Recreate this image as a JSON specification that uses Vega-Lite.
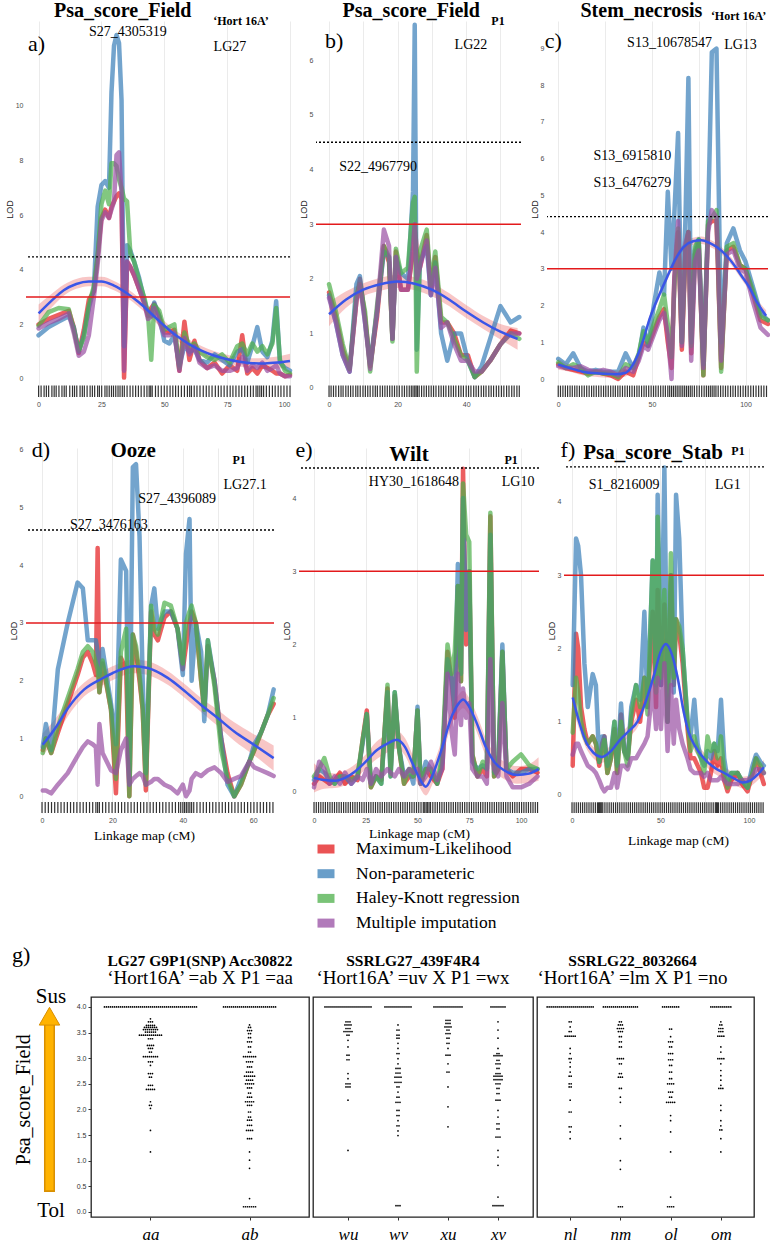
{
"$schema":"https://vega.github.io/schema/vega-lite/v6.json",
"background":"white",
"padding":{"left":3,"top":0,"right":0,"bottom":0},
"spacing":0,
"config":{"font":"Liberation Sans","view":{"stroke":null},
"axis":{"domain":false,"ticks":false,"labelOverlap":false,"gridColor":"#ebebeb","gridWidth":1,"labelColor":"#4d4d4d","labelFontSize":7,"titleFontSize":9,"titleFontWeight":"normal","titleColor":"#222"}},
"datasets":{
"a":[{"x":0,"ML":2.0,"NP":1.6,"HK":1.95,"MI":1.85},{"x":4,"ML":2.2,"NP":1.9,"HK":2.45,"MI":2.05},{"x":8,"ML":2.35,"NP":2.1,"HK":2.6,"MI":2.2},{"x":12,"ML":2.5,"NP":2.3,"HK":2.55,"MI":2.4},{"x":14,"ML":1.9,"NP":1.9,"HK":1.8,"MI":1.7},{"x":16,"ML":0.95,"NP":1.0,"HK":1.05,"MI":0.85},{"x":18,"ML":1.8,"NP":1.6,"HK":1.5,"MI":1.0},{"x":20,"ML":2.9,"NP":2.6,"HK":2.7,"MI":1.6},{"x":22,"ML":3.2,"NP":3.3,"HK":3.4,"MI":3.0},{"x":23.5,"ML":4.5,"NP":6.3,"HK":4.5,"MI":4.2},{"x":25,"ML":5.9,"NP":7.1,"HK":6.4,"MI":5.8},{"x":26.5,"ML":6.2,"NP":7.25,"HK":6.9,"MI":6.1},{"x":28,"ML":5.9,"NP":7.0,"HK":6.4,"MI":5.9},{"x":29,"ML":6.3,"NP":10.5,"HK":7.9,"MI":6.2},{"x":30,"ML":6.5,"NP":12.2,"HK":7.9,"MI":6.5},{"x":31,"ML":6.7,"NP":12.6,"HK":7.8,"MI":8.2},{"x":32,"ML":6.8,"NP":12.3,"HK":7.3,"MI":8.3},{"x":33,"ML":6.6,"NP":10.2,"HK":7.0,"MI":6.8},{"x":34,"ML":0.05,"NP":1.2,"HK":6.6,"MI":0.3},{"x":35.2,"ML":4.3,"NP":4.9,"HK":6.5,"MI":4.3},{"x":36.5,"ML":4.1,"NP":4.7,"HK":4.6,"MI":4.1},{"x":38,"ML":3.8,"NP":4.3,"HK":4.3,"MI":3.8},{"x":40,"ML":3.3,"NP":3.7,"HK":3.6,"MI":3.3},{"x":42,"ML":2.8,"NP":2.9,"HK":3.0,"MI":2.8},{"x":43.5,"ML":2.3,"NP":2.4,"HK":2.4,"MI":2.2},{"x":44.8,"ML":2.6,"NP":2.3,"HK":0.7,"MI":2.3},{"x":46,"ML":2.75,"NP":2.8,"HK":2.7,"MI":2.6},{"x":48,"ML":2.3,"NP":2.3,"HK":2.5,"MI":2.1},{"x":50,"ML":1.7,"NP":1.4,"HK":1.8,"MI":1.6},{"x":52,"ML":1.7,"NP":1.3,"HK":1.9,"MI":1.6},{"x":54,"ML":1.8,"NP":1.6,"HK":2.0,"MI":1.7},{"x":56,"ML":0.3,"NP":0.5,"HK":0.4,"MI":0.3},{"x":58,"ML":2.1,"NP":1.2,"HK":1.7,"MI":1.5},{"x":60,"ML":0.7,"NP":1.0,"HK":1.2,"MI":0.9},{"x":62,"ML":1.4,"NP":1.1,"HK":1.3,"MI":1.2},{"x":64,"ML":0.7,"NP":0.7,"HK":1.0,"MI":0.6},{"x":67,"ML":0.4,"NP":0.6,"HK":0.8,"MI":0.4},{"x":70,"ML":0.6,"NP":0.9,"HK":0.7,"MI":0.5},{"x":73,"ML":0.2,"NP":0.7,"HK":0.9,"MI":0.3},{"x":76,"ML":0.5,"NP":0.5,"HK":0.6,"MI":0.3},{"x":79,"ML":0.3,"NP":1.0,"HK":1.2,"MI":0.4},{"x":81,"ML":1.6,"NP":1.1,"HK":1.3,"MI":0.8},{"x":83,"ML":0.2,"NP":0.6,"HK":0.9,"MI":0.3},{"x":85,"ML":0.4,"NP":1.2,"HK":1.3,"MI":0.5},{"x":87,"ML":0.2,"NP":1.9,"HK":1.0,"MI":0.4},{"x":89,"ML":0.5,"NP":1.0,"HK":1.2,"MI":0.6},{"x":91,"ML":0.4,"NP":0.8,"HK":0.9,"MI":0.3},{"x":93,"ML":0.3,"NP":1.4,"HK":1.3,"MI":0.4},{"x":94.5,"ML":0.2,"NP":2.85,"HK":2.6,"MI":0.5},{"x":96,"ML":0.2,"NP":0.6,"HK":0.7,"MI":0.2},{"x":98,"ML":0.1,"NP":0.4,"HK":0.3,"MI":0.1},{"x":100,"ML":0.15,"NP":0.3,"HK":0.2,"MI":0.1}],
"b":[{"x":0,"ML":1.75,"NP":1.7,"HK":1.9,"MI":1.65},{"x":2,"ML":1.3,"NP":1.2,"HK":1.4,"MI":1.2},{"x":4,"ML":0.7,"NP":0.6,"HK":0.8,"MI":0.6},{"x":6,"ML":0.35,"NP":0.3,"HK":0.35,"MI":0.3},{"x":8,"ML":1.6,"NP":1.9,"HK":1.7,"MI":1.6},{"x":9,"ML":2.0,"NP":2.05,"HK":1.9,"MI":1.9},{"x":10.5,"ML":1.3,"NP":1.2,"HK":1.4,"MI":1.2},{"x":12,"ML":0.4,"NP":0.45,"HK":0.3,"MI":0.35},{"x":14,"ML":1.3,"NP":1.4,"HK":1.5,"MI":1.4},{"x":16,"ML":2.6,"NP":2.5,"HK":2.6,"MI":2.9},{"x":17.5,"ML":2.3,"NP":2.4,"HK":2.4,"MI":2.6},{"x":18.5,"ML":0.9,"NP":0.9,"HK":0.85,"MI":0.9},{"x":19.5,"ML":2.5,"NP":2.4,"HK":2.55,"MI":2.4},{"x":21,"ML":1.8,"NP":2.1,"HK":2.1,"MI":1.8},{"x":23,"ML":1.8,"NP":2.0,"HK":2.2,"MI":1.8},{"x":24.5,"ML":2.5,"NP":3.6,"HK":3.4,"MI":2.6},{"x":25,"ML":3.0,"NP":6.65,"HK":3.5,"MI":3.0},{"x":25.6,"ML":2.5,"NP":0.7,"HK":0.3,"MI":2.0},{"x":26.5,"ML":2.2,"NP":2.3,"HK":2.5,"MI":2.2},{"x":28.5,"ML":2.8,"NP":2.6,"HK":2.9,"MI":2.7},{"x":29.7,"ML":1.8,"NP":1.7,"HK":1.9,"MI":1.7},{"x":31,"ML":2.4,"NP":2.3,"HK":2.5,"MI":2.2},{"x":32.7,"ML":1.2,"NP":1.0,"HK":1.3,"MI":1.1},{"x":34.5,"ML":1.2,"NP":0.5,"HK":1.2,"MI":1.2},{"x":36.5,"ML":1.0,"NP":1.0,"HK":0.9,"MI":0.8},{"x":38.5,"ML":0.6,"NP":1.0,"HK":0.6,"MI":0.5},{"x":40.5,"ML":0.6,"NP":0.5,"HK":0.5,"MI":0.5},{"x":42.5,"ML":0.2,"NP":0.2,"HK":0.2,"MI":0.3},{"x":44.5,"ML":0.3,"NP":0.4,"HK":0.3,"MI":0.3},{"x":47,"ML":0.5,"NP":0.9,"HK":0.5,"MI":0.5},{"x":50,"ML":0.8,"NP":1.5,"HK":0.8,"MI":0.8},{"x":53,"ML":1.05,"NP":1.2,"HK":1.0,"MI":1.0},{"x":55.5,"ML":1.0,"NP":1.3,"HK":0.9,"MI":1.0}],
"c":[{"x":0,"ML":0.4,"NP":0.55,"HK":0.45,"MI":0.35},{"x":4,"ML":0.3,"NP":0.4,"HK":0.3,"MI":0.3},{"x":8,"ML":0.25,"NP":0.7,"HK":0.4,"MI":0.3},{"x":12,"ML":0.2,"NP":0.3,"HK":0.3,"MI":0.35},{"x":16,"ML":0.15,"NP":0.2,"HK":0.1,"MI":0.25},{"x":20,"ML":0.2,"NP":0.25,"HK":0.2,"MI":0.2},{"x":24,"ML":0.15,"NP":0.2,"HK":0.15,"MI":0.25},{"x":28,"ML":0.1,"NP":0.2,"HK":0.15,"MI":0.2},{"x":32,"ML":0.0,"NP":0.2,"HK":0.05,"MI":0.1},{"x":36,"ML":0.2,"NP":0.7,"HK":0.4,"MI":0.3},{"x":40,"ML":0.1,"NP":0.3,"HK":0.3,"MI":0.2},{"x":43,"ML":0.6,"NP":0.6,"HK":0.7,"MI":0.5},{"x":45.5,"ML":1.0,"NP":1.4,"HK":1.3,"MI":0.9},{"x":48,"ML":0.9,"NP":0.9,"HK":1.0,"MI":0.8},{"x":51,"ML":1.3,"NP":2.0,"HK":1.5,"MI":1.2},{"x":54,"ML":1.7,"NP":2.9,"HK":1.9,"MI":1.6},{"x":56.5,"ML":1.9,"NP":2.3,"HK":2.3,"MI":1.8},{"x":58.5,"ML":1.0,"NP":5.1,"HK":1.5,"MI":1.2},{"x":60.5,"ML":0.3,"NP":3.0,"HK":0.6,"MI":0.0},{"x":62,"ML":2.7,"NP":4.5,"HK":2.5,"MI":2.8},{"x":64,"ML":4.0,"NP":6.7,"HK":4.1,"MI":4.3},{"x":66,"ML":0.8,"NP":1.0,"HK":1.0,"MI":0.9},{"x":68,"ML":3.5,"NP":4.5,"HK":3.6,"MI":3.7},{"x":69.5,"ML":4.0,"NP":8.2,"HK":4.0,"MI":4.0},{"x":71,"ML":0.7,"NP":1.0,"HK":0.9,"MI":0.5},{"x":73,"ML":3.4,"NP":3.5,"HK":3.6,"MI":3.2},{"x":75,"ML":3.7,"NP":3.8,"HK":3.8,"MI":3.5},{"x":77.5,"ML":0.1,"NP":0.4,"HK":0.1,"MI":0.3},{"x":80,"ML":4.2,"NP":4.3,"HK":4.3,"MI":4.0},{"x":82,"ML":4.3,"NP":8.9,"HK":4.4,"MI":4.6},{"x":84.5,"ML":4.3,"NP":9.0,"HK":4.6,"MI":4.4},{"x":87,"ML":0.3,"NP":1.0,"HK":0.2,"MI":0.5},{"x":90,"ML":3.5,"NP":3.7,"HK":3.6,"MI":3.4},{"x":93.5,"ML":3.6,"NP":4.1,"HK":3.7,"MI":3.5},{"x":97,"ML":3.1,"NP":3.5,"HK":3.1,"MI":3.0},{"x":100,"ML":3.0,"NP":3.2,"HK":3.0,"MI":2.9},{"x":104,"ML":2.3,"NP":2.5,"HK":2.4,"MI":2.1},{"x":108,"ML":1.6,"NP":1.8,"HK":1.7,"MI":1.4},{"x":112,"ML":1.5,"NP":1.6,"HK":1.6,"MI":1.2}],
"d":[{"x":0.2,"ML":0.8,"NP":0.85,"HK":0.75,"MI":0.1},{"x":1.1,"ML":1.0,"NP":1.25,"HK":1.0,"MI":0.1},{"x":2.6,"ML":0.75,"NP":0.8,"HK":0.75,"MI":0.05},{"x":4.5,"ML":1.1,"NP":2.2,"HK":1.2,"MI":0.2},{"x":7.3,"ML":1.6,"NP":3.0,"HK":1.7,"MI":0.4},{"x":10.1,"ML":2.1,"NP":3.7,"HK":2.2,"MI":0.7},{"x":11.6,"ML":2.4,"NP":3.6,"HK":2.5,"MI":0.85},{"x":13,"ML":2.5,"NP":2.7,"HK":2.6,"MI":0.95},{"x":14.4,"ML":2.3,"NP":2.7,"HK":2.5,"MI":0.9},{"x":15.3,"ML":2.1,"NP":2.7,"HK":2.3,"MI":0.85},{"x":15.8,"ML":4.3,"NP":2.5,"HK":2.2,"MI":0.2},{"x":16.3,"ML":1.8,"NP":2.1,"HK":1.8,"MI":1.25},{"x":17.2,"ML":2.3,"NP":2.55,"HK":2.35,"MI":0.75},{"x":19.6,"ML":1.5,"NP":1.6,"HK":1.5,"MI":0.45},{"x":21,"ML":0.05,"NP":0.9,"HK":0.3,"MI":0.4},{"x":22.4,"ML":2.4,"NP":4.1,"HK":2.5,"MI":0.8},{"x":23.9,"ML":2.2,"NP":3.9,"HK":2.9,"MI":1.0},{"x":24.8,"ML":0.0,"NP":0.2,"HK":0.0,"MI":0.2},{"x":25.8,"ML":2.8,"NP":5.7,"HK":2.8,"MI":0.3},{"x":26.7,"ML":2.5,"NP":5.75,"HK":2.6,"MI":0.35},{"x":27.7,"ML":2.0,"NP":4.5,"HK":2.1,"MI":0.4},{"x":28.6,"ML":1.5,"NP":2.0,"HK":1.5,"MI":0.35},{"x":29.5,"ML":0.1,"NP":0.4,"HK":0.2,"MI":0.2},{"x":31,"ML":3.2,"NP":3.3,"HK":3.3,"MI":0.25},{"x":31.9,"ML":2.8,"NP":3.6,"HK":2.9,"MI":0.3},{"x":32.9,"ML":2.7,"NP":2.9,"HK":2.8,"MI":0.3},{"x":34.8,"ML":3.1,"NP":3.2,"HK":3.35,"MI":0.2},{"x":36.6,"ML":3.2,"NP":3.2,"HK":3.3,"MI":0.15},{"x":38.5,"ML":2.9,"NP":2.9,"HK":2.9,"MI":0.05},{"x":40,"ML":2.2,"NP":2.1,"HK":2.3,"MI":0.2},{"x":40.9,"ML":2.6,"NP":4.2,"HK":3.0,"MI":0.0},{"x":41.9,"ML":3.0,"NP":4.8,"HK":3.2,"MI":0.1},{"x":42.5,"ML":3.2,"NP":2.0,"HK":3.3,"MI":0.3},{"x":43.7,"ML":3.0,"NP":3.0,"HK":3.0,"MI":0.4},{"x":45.2,"ML":2.0,"NP":2.5,"HK":2.0,"MI":0.35},{"x":46.1,"ML":1.5,"NP":1.3,"HK":1.5,"MI":0.4},{"x":47.1,"ML":2.6,"NP":2.7,"HK":2.7,"MI":0.45},{"x":49,"ML":2.0,"NP":2.0,"HK":1.9,"MI":0.5},{"x":50.9,"ML":1.0,"NP":1.0,"HK":0.8,"MI":0.4},{"x":52.7,"ML":0.4,"NP":0.2,"HK":0.3,"MI":0.25},{"x":54.6,"ML":0.0,"NP":0.0,"HK":0.0,"MI":0.3},{"x":56.5,"ML":0.2,"NP":0.3,"HK":0.2,"MI":0.35},{"x":58.9,"ML":0.6,"NP":0.6,"HK":0.6,"MI":0.6},{"x":60.3,"ML":0.8,"NP":0.9,"HK":0.8,"MI":0.5},{"x":62.2,"ML":1.1,"NP":1.1,"HK":1.1,"MI":0.45},{"x":64.1,"ML":1.4,"NP":1.4,"HK":1.4,"MI":0.4},{"x":65.8,"ML":1.6,"NP":1.85,"HK":1.7,"MI":0.35}],
"e":[{"x":0,"ML":0.1,"NP":0.15,"HK":0.2,"MI":0.05},{"x":2.5,"ML":0.2,"NP":0.3,"HK":0.3,"MI":0.4},{"x":5,"ML":0.15,"NP":0.25,"HK":0.45,"MI":0.3},{"x":7.5,"ML":0.1,"NP":0.15,"HK":0.2,"MI":0.1},{"x":10,"ML":0.15,"NP":0.1,"HK":0.1,"MI":0.2},{"x":12.5,"ML":0.25,"NP":0.2,"HK":0.2,"MI":0.1},{"x":15,"ML":0.1,"NP":0.2,"HK":0.2,"MI":0.25},{"x":18,"ML":0.2,"NP":0.1,"HK":0.15,"MI":0.1},{"x":21,"ML":0.15,"NP":0.2,"HK":0.2,"MI":0.2},{"x":23.5,"ML":0.7,"NP":0.65,"HK":0.7,"MI":0.15},{"x":25.5,"ML":1.1,"NP":1.05,"HK":1.05,"MI":0.3},{"x":27.5,"ML":0.05,"NP":0.1,"HK":0.05,"MI":0.1},{"x":30,"ML":0.2,"NP":0.2,"HK":0.2,"MI":0.3},{"x":32.5,"ML":0.15,"NP":0.1,"HK":0.1,"MI":0.2},{"x":35.5,"ML":1.4,"NP":1.35,"HK":1.45,"MI":0.3},{"x":37,"ML":0.3,"NP":0.2,"HK":0.2,"MI":0.25},{"x":39,"ML":1.3,"NP":1.35,"HK":1.35,"MI":0.2},{"x":41,"ML":0.6,"NP":0.6,"HK":0.6,"MI":0.3},{"x":43.5,"ML":0.1,"NP":0.2,"HK":0.1,"MI":0.2},{"x":46,"ML":0.2,"NP":0.3,"HK":0.3,"MI":0.3},{"x":48,"ML":0.2,"NP":0.1,"HK":0.2,"MI":0.25},{"x":50,"ML":1.1,"NP":1.15,"HK":1.1,"MI":0.3},{"x":51.5,"ML":0.1,"NP":0.1,"HK":0.1,"MI":0.1},{"x":54,"ML":0.3,"NP":0.4,"HK":0.3,"MI":0.2},{"x":56.5,"ML":0.2,"NP":0.3,"HK":0.3,"MI":0.4},{"x":59.5,"ML":0.1,"NP":0.1,"HK":0.1,"MI":0.15},{"x":62,"ML":0.3,"NP":0.4,"HK":0.5,"MI":0.3},{"x":64.5,"ML":1.9,"NP":1.8,"HK":2.0,"MI":1.6},{"x":66.5,"ML":1.5,"NP":1.5,"HK":1.6,"MI":0.8},{"x":68,"ML":1.0,"NP":1.1,"HK":1.9,"MI":0.5},{"x":69.5,"ML":2.8,"NP":3.1,"HK":2.8,"MI":1.6},{"x":71,"ML":1.5,"NP":1.6,"HK":1.5,"MI":0.9},{"x":72,"ML":4.4,"NP":4.0,"HK":4.2,"MI":1.4},{"x":73.5,"ML":2.0,"NP":2.2,"HK":3.5,"MI":1.0},{"x":75,"ML":3.0,"NP":3.0,"HK":3.4,"MI":1.2},{"x":76.5,"ML":0.5,"NP":0.4,"HK":0.5,"MI":0.3},{"x":79,"ML":0.2,"NP":0.3,"HK":0.2,"MI":0.2},{"x":81.5,"ML":0.3,"NP":0.35,"HK":0.4,"MI":0.2},{"x":83.5,"ML":0.2,"NP":0.3,"HK":0.3,"MI":0.1},{"x":85.2,"ML":3.75,"NP":3.5,"HK":3.8,"MI":1.8},{"x":87,"ML":0.2,"NP":0.25,"HK":0.2,"MI":0.3},{"x":89,"ML":0.3,"NP":0.4,"HK":0.3,"MI":0.2},{"x":91,"ML":1.9,"NP":2.0,"HK":1.9,"MI":1.2},{"x":93,"ML":0.3,"NP":0.3,"HK":0.3,"MI":0.2},{"x":96,"ML":0.2,"NP":0.25,"HK":0.4,"MI":0.05},{"x":100,"ML":0.3,"NP":0.25,"HK":0.5,"MI":0.05},{"x":104,"ML":0.3,"NP":0.3,"HK":0.35,"MI":0.1},{"x":108,"ML":0.25,"NP":0.3,"HK":0.3,"MI":0.2}],
"f":[{"x":0.4,"ML":0.4,"NP":1.5,"HK":0.85,"MI":0.55},{"x":2.3,"ML":2.2,"NP":3.5,"HK":1.6,"MI":0.7},{"x":3.5,"ML":2.0,"NP":3.4,"HK":1.4,"MI":0.7},{"x":5.1,"ML":1.2,"NP":3.0,"HK":1.0,"MI":0.6},{"x":7,"ML":0.9,"NP":1.8,"HK":0.8,"MI":0.5},{"x":8.9,"ML":0.7,"NP":1.2,"HK":0.7,"MI":0.4},{"x":11.7,"ML":0.8,"NP":1.65,"HK":0.8,"MI":0.35},{"x":13.5,"ML":0.7,"NP":1.5,"HK":0.7,"MI":0.3},{"x":15.4,"ML":0.4,"NP":0.45,"HK":0.45,"MI":0.2},{"x":17,"ML":0.7,"NP":0.8,"HK":0.6,"MI":0.1},{"x":18.3,"ML":0.8,"NP":0.8,"HK":0.75,"MI":0.05},{"x":20,"ML":0.3,"NP":0.4,"HK":0.3,"MI":0.1},{"x":22,"ML":0.5,"NP":0.6,"HK":0.5,"MI":0.1},{"x":24,"ML":0.9,"NP":1.0,"HK":1.0,"MI":0.3},{"x":25.5,"ML":0.3,"NP":0.4,"HK":0.3,"MI":0.1},{"x":27.7,"ML":1.1,"NP":1.25,"HK":1.0,"MI":0.4},{"x":29.5,"ML":0.6,"NP":0.6,"HK":0.6,"MI":0.4},{"x":31.4,"ML":0.5,"NP":0.5,"HK":0.4,"MI":0.35},{"x":33.5,"ML":1.0,"NP":1.2,"HK":1.1,"MI":0.5},{"x":36.2,"ML":1.3,"NP":1.5,"HK":1.5,"MI":0.5},{"x":38.5,"ML":1.0,"NP":1.3,"HK":1.2,"MI":0.6},{"x":40.9,"ML":1.6,"NP":2.5,"HK":1.6,"MI":0.7},{"x":42.7,"ML":1.2,"NP":1.2,"HK":1.1,"MI":0.8},{"x":45.6,"ML":2.5,"NP":3.2,"HK":3.2,"MI":1.5},{"x":47.5,"ML":1.2,"NP":1.5,"HK":1.4,"MI":0.9},{"x":48.4,"ML":2.8,"NP":4.1,"HK":3.8,"MI":1.6},{"x":50.3,"ML":1.5,"NP":1.5,"HK":1.6,"MI":0.9},{"x":52.2,"ML":2.6,"NP":4.47,"HK":2.8,"MI":1.8},{"x":54,"ML":1.0,"NP":1.0,"HK":1.0,"MI":0.6},{"x":55.9,"ML":3.0,"NP":3.0,"HK":3.3,"MI":1.5},{"x":57.5,"ML":1.5,"NP":1.4,"HK":1.6,"MI":0.7},{"x":58.8,"ML":2.4,"NP":4.1,"HK":2.4,"MI":1.3},{"x":60.6,"ML":2.2,"NP":3.5,"HK":2.3,"MI":0.9},{"x":62.5,"ML":1.8,"NP":2.0,"HK":2.0,"MI":0.7},{"x":65.3,"ML":0.9,"NP":1.0,"HK":1.0,"MI":0.5},{"x":67,"ML":0.5,"NP":0.8,"HK":0.6,"MI":0.35},{"x":69.1,"ML":0.5,"NP":1.3,"HK":0.8,"MI":0.3},{"x":71,"ML":0.4,"NP":0.7,"HK":0.6,"MI":0.3},{"x":72.9,"ML":0.3,"NP":0.5,"HK":0.5,"MI":0.3},{"x":74.7,"ML":0.1,"NP":0.4,"HK":0.3,"MI":0.25},{"x":76.6,"ML":0.1,"NP":0.6,"HK":0.8,"MI":0.3},{"x":78.5,"ML":0.3,"NP":0.5,"HK":0.6,"MI":0.2},{"x":80.4,"ML":0.6,"NP":0.7,"HK":0.7,"MI":0.2},{"x":82.3,"ML":0.4,"NP":0.6,"HK":0.5,"MI":0.2},{"x":84.2,"ML":0.5,"NP":1.3,"HK":0.8,"MI":0.25},{"x":86,"ML":0.2,"NP":0.5,"HK":0.3,"MI":0.2},{"x":87.9,"ML":0.05,"NP":0.2,"HK":0.1,"MI":0.15},{"x":90,"ML":0.2,"NP":0.3,"HK":0.3,"MI":0.15},{"x":93.6,"ML":0.3,"NP":0.3,"HK":0.3,"MI":0.15},{"x":96,"ML":0.15,"NP":0.2,"HK":0.2,"MI":0.2},{"x":99.2,"ML":0.05,"NP":0.1,"HK":0.1,"MI":0.2},{"x":102,"ML":0.3,"NP":0.4,"HK":0.3,"MI":0.25},{"x":104,"ML":0.5,"NP":0.55,"HK":0.5,"MI":0.35},{"x":106.5,"ML":0.3,"NP":0.45,"HK":0.4,"MI":0.35},{"x":108.4,"ML":0.15,"NP":0.4,"HK":0.3,"MI":0.3}],
"sa":[{"x":0,"y":2.4,"lo":2.07,"hi":2.73},{"x":5,"y":2.85,"lo":2.6,"hi":3.1},{"x":10,"y":3.25,"lo":3.05,"hi":3.45},{"x":15,"y":3.48,"lo":3.3,"hi":3.66},{"x":20,"y":3.57,"lo":3.4,"hi":3.74},{"x":25,"y":3.57,"lo":3.4,"hi":3.74},{"x":30,"y":3.42,"lo":3.25,"hi":3.59},{"x":35,"y":3.15,"lo":2.98,"hi":3.32},{"x":40,"y":2.8,"lo":2.63,"hi":2.97},{"x":45,"y":2.38,"lo":2.21,"hi":2.55},{"x":50,"y":1.95,"lo":1.78,"hi":2.12},{"x":55,"y":1.57,"lo":1.4,"hi":1.74},{"x":60,"y":1.27,"lo":1.1,"hi":1.44},{"x":65,"y":1.03,"lo":0.86,"hi":1.2},{"x":70,"y":0.85,"lo":0.68,"hi":1.02},{"x":75,"y":0.72,"lo":0.55,"hi":0.89},{"x":80,"y":0.63,"lo":0.46,"hi":0.8},{"x":85,"y":0.58,"lo":0.4,"hi":0.76},{"x":90,"y":0.57,"lo":0.37,"hi":0.77},{"x":95,"y":0.6,"lo":0.38,"hi":0.82},{"x":100,"y":0.66,"lo":0.4,"hi":0.92}],
"sb":[{"x":0,"y":1.35,"lo":1.13,"hi":1.57},{"x":5,"y":1.62,"lo":1.47,"hi":1.77},{"x":10,"y":1.8,"lo":1.68,"hi":1.92},{"x":15,"y":1.9,"lo":1.78,"hi":2.02},{"x":20,"y":1.95,"lo":1.83,"hi":2.07},{"x":25,"y":1.91,"lo":1.79,"hi":2.03},{"x":30,"y":1.8,"lo":1.68,"hi":1.92},{"x":35,"y":1.62,"lo":1.5,"hi":1.74},{"x":40,"y":1.4,"lo":1.28,"hi":1.52},{"x":45,"y":1.2,"lo":1.08,"hi":1.32},{"x":50,"y":1.03,"lo":0.89,"hi":1.17},{"x":55,"y":0.9,"lo":0.7,"hi":1.1}],
"sc":[{"x":0,"y":0.4,"lo":0.25,"hi":0.55},{"x":6,"y":0.3,"lo":0.2,"hi":0.4},{"x":13,"y":0.2,"lo":0.1,"hi":0.3},{"x":22,"y":0.15,"lo":0.05,"hi":0.25},{"x":31,"y":0.13,"lo":0.03,"hi":0.23},{"x":36,"y":0.17,"lo":0.07,"hi":0.27},{"x":40,"y":0.4,"lo":0.3,"hi":0.5},{"x":45,"y":1.0,"lo":0.9,"hi":1.1},{"x":49,"y":1.67,"lo":1.57,"hi":1.77},{"x":54,"y":2.3,"lo":2.2,"hi":2.4},{"x":58,"y":2.76,"lo":2.66,"hi":2.86},{"x":63,"y":3.3,"lo":3.2,"hi":3.4},{"x":67,"y":3.6,"lo":3.5,"hi":3.7},{"x":72,"y":3.75,"lo":3.65,"hi":3.85},{"x":76.5,"y":3.78,"lo":3.68,"hi":3.88},{"x":81,"y":3.7,"lo":3.6,"hi":3.8},{"x":85,"y":3.58,"lo":3.48,"hi":3.68},{"x":90,"y":3.35,"lo":3.25,"hi":3.45},{"x":94,"y":3.1,"lo":3.0,"hi":3.2},{"x":98,"y":2.8,"lo":2.7,"hi":2.9},{"x":102,"y":2.5,"lo":2.4,"hi":2.6},{"x":106,"y":2.1,"lo":2.0,"hi":2.2},{"x":111,"y":1.72,"lo":1.57,"hi":1.87}],
"sd":[{"x":0.2,"y":0.89,"lo":0.69,"hi":1.09},{"x":4,"y":1.2,"lo":1.04,"hi":1.36},{"x":7.3,"y":1.52,"lo":1.38,"hi":1.66},{"x":12,"y":1.85,"lo":1.73,"hi":1.97},{"x":16.8,"y":2.03,"lo":1.91,"hi":2.15},{"x":20,"y":2.13,"lo":2.01,"hi":2.25},{"x":26.2,"y":2.25,"lo":2.13,"hi":2.37},{"x":30,"y":2.22,"lo":2.1,"hi":2.34},{"x":35.7,"y":2.05,"lo":1.93,"hi":2.17},{"x":40,"y":1.85,"lo":1.73,"hi":1.97},{"x":45.2,"y":1.58,"lo":1.46,"hi":1.7},{"x":50,"y":1.35,"lo":1.21,"hi":1.49},{"x":54.6,"y":1.12,"lo":0.96,"hi":1.28},{"x":60,"y":0.9,"lo":0.72,"hi":1.08},{"x":65.8,"y":0.66,"lo":0.44,"hi":0.88}],
"se":[{"x":0,"y":0.18,"lo":-0.02,"hi":0.38},{"x":5,"y":0.15,"lo":0.03,"hi":0.27},{"x":10,"y":0.14,"lo":0.04,"hi":0.24},{"x":15,"y":0.18,"lo":0.08,"hi":0.28},{"x":20,"y":0.27,"lo":0.17,"hi":0.37},{"x":25,"y":0.4,"lo":0.3,"hi":0.5},{"x":30,"y":0.55,"lo":0.43,"hi":0.67},{"x":35,"y":0.64,"lo":0.52,"hi":0.76},{"x":40,"y":0.7,"lo":0.58,"hi":0.82},{"x":44,"y":0.6,"lo":0.48,"hi":0.72},{"x":48,"y":0.35,"lo":0.23,"hi":0.47},{"x":51,"y":0.17,"lo":0.05,"hi":0.29},{"x":54,"y":0.06,"lo":-0.06,"hi":0.18},{"x":57,"y":0.2,"lo":0.08,"hi":0.32},{"x":62,"y":0.6,"lo":0.48,"hi":0.72},{"x":66,"y":0.98,"lo":0.86,"hi":1.1},{"x":70,"y":1.2,"lo":1.08,"hi":1.32},{"x":72,"y":1.25,"lo":1.13,"hi":1.37},{"x":75,"y":1.15,"lo":1.03,"hi":1.27},{"x":79,"y":0.9,"lo":0.78,"hi":1.02},{"x":83,"y":0.6,"lo":0.48,"hi":0.72},{"x":87,"y":0.4,"lo":0.28,"hi":0.52},{"x":92,"y":0.28,"lo":0.16,"hi":0.4},{"x":98,"y":0.22,"lo":0.1,"hi":0.34},{"x":104,"y":0.24,"lo":0.11,"hi":0.37},{"x":108.5,"y":0.3,"lo":0.14,"hi":0.46}],
"sf":[{"x":0.4,"y":1.33,"lo":1.21,"hi":1.45},{"x":4,"y":1.0,"lo":0.9,"hi":1.1},{"x":8,"y":0.72,"lo":0.64,"hi":0.8},{"x":12,"y":0.58,"lo":0.5,"hi":0.66},{"x":17,"y":0.52,"lo":0.44,"hi":0.6},{"x":22,"y":0.6,"lo":0.52,"hi":0.68},{"x":27,"y":0.75,"lo":0.67,"hi":0.83},{"x":32,"y":0.87,"lo":0.79,"hi":0.95},{"x":37,"y":1.0,"lo":0.92,"hi":1.08},{"x":42,"y":1.3,"lo":1.22,"hi":1.38},{"x":46.5,"y":1.65,"lo":1.57,"hi":1.73},{"x":50,"y":1.95,"lo":1.87,"hi":2.03},{"x":53,"y":2.06,"lo":1.98,"hi":2.14},{"x":56,"y":1.95,"lo":1.87,"hi":2.03},{"x":59.7,"y":1.6,"lo":1.52,"hi":1.68},{"x":63,"y":1.15,"lo":1.07,"hi":1.23},{"x":66,"y":0.85,"lo":0.77,"hi":0.93},{"x":70,"y":0.65,"lo":0.57,"hi":0.73},{"x":76.6,"y":0.45,"lo":0.37,"hi":0.53},{"x":82,"y":0.35,"lo":0.27,"hi":0.43},{"x":86,"y":0.3,"lo":0.22,"hi":0.38},{"x":92,"y":0.22,"lo":0.14,"hi":0.3},{"x":96.4,"y":0.17,"lo":0.09,"hi":0.25},{"x":101,"y":0.2,"lo":0.12,"hi":0.28},{"x":105,"y":0.28,"lo":0.2,"hi":0.36},{"x":108.4,"y":0.38,"lo":0.28,"hi":0.48}],
"ra":[{"x":0},{"x":1},{"x":2.2},{"x":3.1},{"x":4},{"x":5.3},{"x":6.2},{"x":7},{"x":8.1},{"x":9.3},{"x":10.2},{"x":11},{"x":12.4},{"x":13.5},{"x":14.3},{"x":15.2},{"x":16.5},{"x":17.4},{"x":18.2},{"x":19.3},{"x":20.5},{"x":21.4},{"x":22.3},{"x":23.5},{"x":24.2},{"x":25.1},{"x":26.4},{"x":27.2},{"x":28.1},{"x":29},{"x":29.8},{"x":30.7},{"x":31.6},{"x":32.4},{"x":33.3},{"x":34.1},{"x":35.2},{"x":36.4},{"x":37.5},{"x":38.6},{"x":39.7},{"x":40.8},{"x":42},{"x":43.1},{"x":44},{"x":44.6},{"x":45.2},{"x":46.5},{"x":47.6},{"x":48.8},{"x":50},{"x":51.1},{"x":52.3},{"x":53.4},{"x":54.5},{"x":55.6},{"x":56.8},{"x":58},{"x":59.2},{"x":60.1},{"x":60.8},{"x":61.9},{"x":63},{"x":64.2},{"x":65.5},{"x":66.7},{"x":67.8},{"x":69},{"x":70.3},{"x":71.5},{"x":72.6},{"x":73.8},{"x":75},{"x":76.2},{"x":77.3},{"x":78.5},{"x":79.7},{"x":80.8},{"x":82},{"x":83.1},{"x":84.3},{"x":85.4},{"x":86.5},{"x":87.2},{"x":88},{"x":88.7},{"x":89.5},{"x":90.6},{"x":91.8},{"x":93},{"x":94.1},{"x":95.3},{"x":96.4},{"x":97.6},{"x":98.8},{"x":100}],
"rb":[{"x":0},{"x":0.6},{"x":1.3},{"x":2},{"x":2.8},{"x":3.5},{"x":4.1},{"x":4.9},{"x":5.6},{"x":6.3},{"x":7},{"x":7.8},{"x":8.4},{"x":9.1},{"x":9.9},{"x":10.6},{"x":11.3},{"x":12},{"x":12.8},{"x":13.5},{"x":14.1},{"x":14.9},{"x":15.6},{"x":16.3},{"x":17},{"x":17.7},{"x":18.4},{"x":19.1},{"x":19.8},{"x":20.5},{"x":21.3},{"x":22},{"x":22.7},{"x":23.4},{"x":24},{"x":24.5},{"x":25},{"x":25.4},{"x":25.8},{"x":26.3},{"x":27},{"x":27.7},{"x":28.4},{"x":29.1},{"x":29.8},{"x":30.5},{"x":31.2},{"x":32},{"x":32.7},{"x":33.4},{"x":34.1},{"x":34.9},{"x":35.6},{"x":36.3},{"x":37},{"x":37.8},{"x":38.5},{"x":39.2},{"x":40},{"x":40.7},{"x":41.4},{"x":42.2},{"x":42.9},{"x":43.6},{"x":44.4},{"x":45.1},{"x":45.8},{"x":46.6},{"x":47.3},{"x":48},{"x":48.8},{"x":49.5},{"x":50.3},{"x":51},{"x":51.8},{"x":52.5},{"x":53.3},{"x":54},{"x":54.8},{"x":55.5}],
"rc":[{"x":0},{"x":1.2},{"x":2.5},{"x":3.8},{"x":5},{"x":6.3},{"x":7.5},{"x":8.8},{"x":10},{"x":11.3},{"x":12.6},{"x":13.9},{"x":15.2},{"x":16.5},{"x":17.8},{"x":19},{"x":20.3},{"x":21.6},{"x":22.9},{"x":24.2},{"x":25.4},{"x":26.7},{"x":28},{"x":29.3},{"x":30.5},{"x":31.8},{"x":33},{"x":34.3},{"x":35.6},{"x":36.9},{"x":38.1},{"x":39.4},{"x":40.7},{"x":42},{"x":43.2},{"x":44.5},{"x":45.8},{"x":47},{"x":48.3},{"x":49.6},{"x":50.9},{"x":52.1},{"x":53.4},{"x":54.7},{"x":56},{"x":57.2},{"x":58.5},{"x":59.5},{"x":60.5},{"x":61.5},{"x":62.5},{"x":63.5},{"x":64.5},{"x":65.5},{"x":66.5},{"x":67.5},{"x":68.5},{"x":69.5},{"x":70.5},{"x":71.5},{"x":72.7},{"x":74},{"x":75.3},{"x":76.6},{"x":77.9},{"x":79.1},{"x":80.2},{"x":81.2},{"x":82.2},{"x":83.2},{"x":84.2},{"x":85.4},{"x":86.7},{"x":88},{"x":89.3},{"x":90.6},{"x":92},{"x":93.3},{"x":94.6},{"x":96},{"x":97.3},{"x":98.7},{"x":100},{"x":101.4},{"x":102.8},{"x":104.2},{"x":105.6},{"x":107},{"x":108.4},{"x":109.8},{"x":111.2}],
"rd":[{"x":0},{"x":0.9},{"x":1.8},{"x":2.7},{"x":3.6},{"x":4.5},{"x":5.4},{"x":6.3},{"x":7.2},{"x":8.1},{"x":9},{"x":9.9},{"x":10.8},{"x":11.7},{"x":12.6},{"x":13.5},{"x":14.4},{"x":15.3},{"x":15.8},{"x":16.3},{"x":17.2},{"x":18.1},{"x":19},{"x":19.9},{"x":20.8},{"x":21.7},{"x":22.6},{"x":23.5},{"x":24.4},{"x":25.3},{"x":26.2},{"x":27.1},{"x":28},{"x":28.9},{"x":29.8},{"x":30.7},{"x":31.6},{"x":32.5},{"x":33.4},{"x":34.3},{"x":35.2},{"x":36.1},{"x":37},{"x":37.9},{"x":38.8},{"x":39.4},{"x":40},{"x":40.5},{"x":41},{"x":41.5},{"x":42},{"x":42.5},{"x":43.1},{"x":44},{"x":44.9},{"x":45.8},{"x":46.7},{"x":47.6},{"x":48.5},{"x":49.4},{"x":50.3},{"x":51.2},{"x":52.1},{"x":53},{"x":53.9},{"x":54.8},{"x":55.7},{"x":56.6},{"x":57.5},{"x":58.4},{"x":59.3},{"x":60.2},{"x":61.1},{"x":62},{"x":62.9},{"x":63.8},{"x":64.7},{"x":65.6}],
"re":[{"x":0},{"x":1.1},{"x":2.2},{"x":3.3},{"x":4.4},{"x":5.5},{"x":6.6},{"x":7.7},{"x":8.8},{"x":9.9},{"x":11},{"x":12.1},{"x":13.2},{"x":14.3},{"x":15.4},{"x":16.5},{"x":17.6},{"x":18.7},{"x":19.8},{"x":20.9},{"x":22},{"x":23.1},{"x":24.2},{"x":25.3},{"x":26.4},{"x":27.5},{"x":28.6},{"x":29.7},{"x":30.8},{"x":31.9},{"x":33},{"x":34.1},{"x":35.2},{"x":36.3},{"x":37.4},{"x":38.5},{"x":39.6},{"x":40.7},{"x":41.8},{"x":42.9},{"x":44},{"x":45.1},{"x":46.2},{"x":47.3},{"x":48.4},{"x":49.5},{"x":50.6},{"x":51.7},{"x":52.8},{"x":53.5},{"x":54.2},{"x":54.9},{"x":55.6},{"x":56.3},{"x":57.4},{"x":58.5},{"x":59.6},{"x":60.7},{"x":61.8},{"x":62.9},{"x":64},{"x":65.1},{"x":66.2},{"x":67.3},{"x":68.4},{"x":69.5},{"x":70.6},{"x":71.7},{"x":72.8},{"x":73.9},{"x":75},{"x":76.1},{"x":77.2},{"x":78.3},{"x":79.4},{"x":80.5},{"x":81.6},{"x":82.7},{"x":83.8},{"x":84.9},{"x":86},{"x":87.1},{"x":88.2},{"x":89.3},{"x":90.4},{"x":91.5},{"x":92.6},{"x":93.7},{"x":94.8},{"x":95.9},{"x":97},{"x":98.1},{"x":99.2},{"x":100.3},{"x":101.4},{"x":102.5},{"x":103.6},{"x":104.7},{"x":105.8},{"x":106.9},{"x":108}],
"rf":[{"x":0},{"x":1.2},{"x":2.4},{"x":3.6},{"x":4.8},{"x":6},{"x":7.2},{"x":8.4},{"x":9.6},{"x":10.8},{"x":12},{"x":13.2},{"x":14.4},{"x":15},{"x":15.6},{"x":16.2},{"x":16.8},{"x":17.4},{"x":18.6},{"x":19.8},{"x":21},{"x":22.2},{"x":23.4},{"x":24.6},{"x":25.8},{"x":27},{"x":28.2},{"x":29.4},{"x":30.6},{"x":31.8},{"x":33},{"x":34.2},{"x":35.4},{"x":36.6},{"x":37.8},{"x":39},{"x":40.2},{"x":41.4},{"x":42.6},{"x":43.8},{"x":45},{"x":46.2},{"x":47.4},{"x":48.6},{"x":49.8},{"x":51},{"x":52.2},{"x":53.4},{"x":54.6},{"x":55.8},{"x":57},{"x":58.2},{"x":59.4},{"x":60.6},{"x":61.8},{"x":63},{"x":64.2},{"x":65.4},{"x":66.6},{"x":67.8},{"x":69},{"x":70.2},{"x":71.4},{"x":72.6},{"x":73.8},{"x":75},{"x":76.2},{"x":77.4},{"x":78.6},{"x":79.8},{"x":81},{"x":81.6},{"x":82.2},{"x":82.8},{"x":84},{"x":85.2},{"x":86.4},{"x":87.6},{"x":88.8},{"x":90},{"x":91.2},{"x":92.4},{"x":93.6},{"x":94.8},{"x":96},{"x":97.2},{"x":98.4},{"x":99.6},{"x":100.8},{"x":102},{"x":103.2},{"x":104.4},{"x":105.6},{"x":106.8},{"x":108}],
"dots":[
{"g":"aa","s":4},{"g":"aa","s":4},{"g":"aa","s":4},{"g":"aa","s":4},{"g":"aa","s":4},{"g":"aa","s":4},{"g":"aa","s":4},{"g":"aa","s":4},{"g":"aa","s":4},{"g":"aa","s":4},
{"g":"aa","s":4},{"g":"aa","s":4},{"g":"aa","s":4},{"g":"aa","s":4},{"g":"aa","s":4},{"g":"aa","s":4},{"g":"aa","s":4},{"g":"aa","s":4},{"g":"aa","s":4},{"g":"aa","s":4},
{"g":"aa","s":4},{"g":"aa","s":4},{"g":"aa","s":4},{"g":"aa","s":4},{"g":"aa","s":4},{"g":"aa","s":4},{"g":"aa","s":4},{"g":"aa","s":4},{"g":"aa","s":4},{"g":"aa","s":4},
{"g":"aa","s":4},{"g":"aa","s":4},{"g":"aa","s":4},{"g":"aa","s":4},{"g":"aa","s":4},{"g":"aa","s":4},{"g":"aa","s":4},{"g":"aa","s":4},{"g":"aa","s":4},{"g":"aa","s":4},
{"g":"aa","s":4},{"g":"aa","s":4},{"g":"aa","s":4},{"g":"aa","s":4},{"g":"aa","s":4},{"g":"aa","s":4},{"g":"aa","s":4},
{"g":"aa","s":3.77},{"g":"aa","s":3.71},{"g":"aa","s":3.71},{"g":"aa","s":3.71},
{"g":"aa","s":3.64},{"g":"aa","s":3.64},{"g":"aa","s":3.64},{"g":"aa","s":3.64},{"g":"aa","s":3.64},
{"g":"aa","s":3.6},{"g":"aa","s":3.6},{"g":"aa","s":3.6},{"g":"aa","s":3.6},{"g":"aa","s":3.6},{"g":"aa","s":3.6},{"g":"aa","s":3.6},
{"g":"aa","s":3.56},{"g":"aa","s":3.56},{"g":"aa","s":3.56},{"g":"aa","s":3.56},{"g":"aa","s":3.56},{"g":"aa","s":3.56},{"g":"aa","s":3.56},{"g":"aa","s":3.56},
{"g":"aa","s":3.51},{"g":"aa","s":3.51},{"g":"aa","s":3.51},{"g":"aa","s":3.51},{"g":"aa","s":3.51},{"g":"aa","s":3.51},
{"g":"aa","s":3.45},{"g":"aa","s":3.45},{"g":"aa","s":3.45},{"g":"aa","s":3.45},{"g":"aa","s":3.45},{"g":"aa","s":3.45},{"g":"aa","s":3.45},{"g":"aa","s":3.45},{"g":"aa","s":3.45},{"g":"aa","s":3.45},{"g":"aa","s":3.45},{"g":"aa","s":3.45},
{"g":"aa","s":3.38},{"g":"aa","s":3.38},{"g":"aa","s":3.38},
{"g":"aa","s":3.25},{"g":"aa","s":3.25},{"g":"aa","s":3.25},{"g":"aa","s":3.25},
{"g":"aa","s":3.19},{"g":"aa","s":3.19},{"g":"aa","s":3.19},{"g":"aa","s":3.12},{"g":"aa","s":3.12},
{"g":"aa","s":3.03},{"g":"aa","s":3.03},{"g":"aa","s":3.03},{"g":"aa","s":3.03},{"g":"aa","s":3.03},{"g":"aa","s":3.03},{"g":"aa","s":3.03},{"g":"aa","s":3.03},
{"g":"aa","s":2.93},{"g":"aa","s":2.93},{"g":"aa","s":2.93},{"g":"aa","s":2.86},
{"g":"aa","s":2.7},{"g":"aa","s":2.7},{"g":"aa","s":2.7},{"g":"aa","s":2.63},{"g":"aa","s":2.63},
{"g":"aa","s":2.47},{"g":"aa","s":2.47},{"g":"aa","s":2.47},
{"g":"aa","s":2.39},{"g":"aa","s":2.39},{"g":"aa","s":2.39},{"g":"aa","s":2.39},{"g":"aa","s":2.39},
{"g":"aa","s":2.15},{"g":"aa","s":2.08},{"g":"aa","s":2.08},{"g":"aa","s":2.02},{"g":"aa","s":1.59},{"g":"aa","s":1.17},
{"g":"ab","s":4},{"g":"ab","s":4},{"g":"ab","s":4},{"g":"ab","s":4},{"g":"ab","s":4},{"g":"ab","s":4},{"g":"ab","s":4},{"g":"ab","s":4},{"g":"ab","s":4},{"g":"ab","s":4},
{"g":"ab","s":4},{"g":"ab","s":4},{"g":"ab","s":4},{"g":"ab","s":4},{"g":"ab","s":4},{"g":"ab","s":4},{"g":"ab","s":4},{"g":"ab","s":4},{"g":"ab","s":4},{"g":"ab","s":4},
{"g":"ab","s":4},{"g":"ab","s":4},{"g":"ab","s":4},{"g":"ab","s":4},{"g":"ab","s":4},{"g":"ab","s":4},{"g":"ab","s":4},
{"g":"ab","s":3.65},{"g":"ab","s":3.6},{"g":"ab","s":3.6},{"g":"ab","s":3.54},{"g":"ab","s":3.54},{"g":"ab","s":3.54},
{"g":"ab","s":3.48},{"g":"ab","s":3.48},{"g":"ab","s":3.4},{"g":"ab","s":3.4},{"g":"ab","s":3.32},{"g":"ab","s":3.32},{"g":"ab","s":3.32},
{"g":"ab","s":3.22},{"g":"ab","s":3.22},{"g":"ab","s":3.12},{"g":"ab","s":3.12},
{"g":"ab","s":3.03},{"g":"ab","s":3.03},{"g":"ab","s":3.03},{"g":"ab","s":3.03},{"g":"ab","s":3.03},{"g":"ab","s":3.03},{"g":"ab","s":3.03},
{"g":"ab","s":2.93},{"g":"ab","s":2.93},{"g":"ab","s":2.93},{"g":"ab","s":2.93},
{"g":"ab","s":2.83},{"g":"ab","s":2.83},{"g":"ab","s":2.83},
{"g":"ab","s":2.73},{"g":"ab","s":2.73},{"g":"ab","s":2.73},{"g":"ab","s":2.73},
{"g":"ab","s":2.65},{"g":"ab","s":2.65},{"g":"ab","s":2.65},{"g":"ab","s":2.65},{"g":"ab","s":2.65},{"g":"ab","s":2.65},
{"g":"ab","s":2.57},{"g":"ab","s":2.57},{"g":"ab","s":2.57},{"g":"ab","s":2.57},
{"g":"ab","s":2.5},{"g":"ab","s":2.5},{"g":"ab","s":2.5},{"g":"ab","s":2.5},{"g":"ab","s":2.5},
{"g":"ab","s":2.42},{"g":"ab","s":2.42},{"g":"ab","s":2.42},{"g":"ab","s":2.32},{"g":"ab","s":2.32},
{"g":"ab","s":2.24},{"g":"ab","s":2.24},{"g":"ab","s":2.24},
{"g":"ab","s":2.15},{"g":"ab","s":2.15},{"g":"ab","s":2.15},{"g":"ab","s":2.15},{"g":"ab","s":2.15},
{"g":"ab","s":2.08},{"g":"ab","s":2.08},{"g":"ab","s":2.08},{"g":"ab","s":1.95},{"g":"ab","s":1.95},{"g":"ab","s":1.85},{"g":"ab","s":1.85},
{"g":"ab","s":1.79},{"g":"ab","s":1.79},{"g":"ab","s":1.79},{"g":"ab","s":1.69},{"g":"ab","s":1.69},{"g":"ab","s":1.69},
{"g":"ab","s":1.59},{"g":"ab","s":1.59},{"g":"ab","s":1.59},{"g":"ab","s":1.59},{"g":"ab","s":1.43},{"g":"ab","s":1.43},{"g":"ab","s":1.43},
{"g":"ab","s":1.17},{"g":"ab","s":1.01},{"g":"ab","s":0.85},{"g":"ab","s":0.26},
{"g":"ab","s":0.1},{"g":"ab","s":0.1},{"g":"ab","s":0.1},{"g":"ab","s":0.1},{"g":"ab","s":0.1},{"g":"ab","s":0.1},{"g":"ab","s":0.1},
{"g":"wu","s":4},{"g":"wu","s":4},{"g":"wu","s":4},{"g":"wu","s":4},{"g":"wu","s":4},{"g":"wu","s":4},{"g":"wu","s":4},{"g":"wu","s":4},{"g":"wu","s":4},{"g":"wu","s":4},
{"g":"wu","s":4},{"g":"wu","s":4},{"g":"wu","s":4},{"g":"wu","s":4},{"g":"wu","s":4},{"g":"wu","s":4},{"g":"wu","s":4},{"g":"wu","s":4},{"g":"wu","s":4},{"g":"wu","s":4},
{"g":"wu","s":4},{"g":"wu","s":4},{"g":"wu","s":4},{"g":"wu","s":4},
{"g":"wu","s":3.71},{"g":"wu","s":3.71},{"g":"wu","s":3.71},{"g":"wu","s":3.65},{"g":"wu","s":3.65},{"g":"wu","s":3.65},{"g":"wu","s":3.65},
{"g":"wu","s":3.58},{"g":"wu","s":3.58},{"g":"wu","s":3.58},{"g":"wu","s":3.52},{"g":"wu","s":3.52},{"g":"wu","s":3.52},{"g":"wu","s":3.52},{"g":"wu","s":3.52},
{"g":"wu","s":3.45},{"g":"wu","s":3.45},{"g":"wu","s":3.35},{"g":"wu","s":3.22},{"g":"wu","s":3.06},{"g":"wu","s":3.06},{"g":"wu","s":2.97},{"g":"wu","s":2.97},
{"g":"wu","s":2.7},{"g":"wu","s":2.6},{"g":"wu","s":2.5},{"g":"wu","s":2.5},{"g":"wu","s":2.5},{"g":"wu","s":2.44},{"g":"wu","s":2.44},{"g":"wu","s":2.44},{"g":"wu","s":2.18},{"g":"wu","s":1.2},
{"g":"wv","s":4},{"g":"wv","s":4},{"g":"wv","s":4},{"g":"wv","s":4},{"g":"wv","s":4},{"g":"wv","s":4},{"g":"wv","s":4},{"g":"wv","s":4},{"g":"wv","s":4},{"g":"wv","s":4},
{"g":"wv","s":4},{"g":"wv","s":4},{"g":"wv","s":4},{"g":"wv","s":4},
{"g":"wv","s":3.65},{"g":"wv","s":3.55},{"g":"wv","s":3.55},{"g":"wv","s":3.45},{"g":"wv","s":3.45},{"g":"wv","s":3.39},{"g":"wv","s":3.39},{"g":"wv","s":3.29},{"g":"wv","s":3.19},
{"g":"wv","s":3.09},{"g":"wv","s":3.09},{"g":"wv","s":2.99},{"g":"wv","s":2.89},{"g":"wv","s":2.8},{"g":"wv","s":2.8},{"g":"wv","s":2.8},
{"g":"wv","s":2.71},{"g":"wv","s":2.71},{"g":"wv","s":2.71},{"g":"wv","s":2.63},{"g":"wv","s":2.63},{"g":"wv","s":2.63},{"g":"wv","s":2.63},
{"g":"wv","s":2.53},{"g":"wv","s":2.53},{"g":"wv","s":2.53},{"g":"wv","s":2.53},{"g":"wv","s":2.44},{"g":"wv","s":2.44},{"g":"wv","s":2.34},
{"g":"wv","s":2.24},{"g":"wv","s":2.24},{"g":"wv","s":2.14},{"g":"wv","s":2.14},{"g":"wv","s":2.14},{"g":"wv","s":1.98},{"g":"wv","s":1.98},
{"g":"wv","s":1.88},{"g":"wv","s":1.88},{"g":"wv","s":1.78},{"g":"wv","s":1.68},{"g":"wv","s":1.68},{"g":"wv","s":1.58},{"g":"wv","s":1.49},
{"g":"wv","s":0.12},{"g":"wv","s":0.12},{"g":"wv","s":0.12},
{"g":"xu","s":4},{"g":"xu","s":4},{"g":"xu","s":4},{"g":"xu","s":4},{"g":"xu","s":4},{"g":"xu","s":4},{"g":"xu","s":4},{"g":"xu","s":4},{"g":"xu","s":4},{"g":"xu","s":4},
{"g":"xu","s":4},{"g":"xu","s":4},{"g":"xu","s":4},{"g":"xu","s":4},{"g":"xu","s":4},
{"g":"xu","s":3.74},{"g":"xu","s":3.74},{"g":"xu","s":3.74},{"g":"xu","s":3.68},{"g":"xu","s":3.68},{"g":"xu","s":3.68},
{"g":"xu","s":3.61},{"g":"xu","s":3.61},{"g":"xu","s":3.61},{"g":"xu","s":3.61},{"g":"xu","s":3.55},{"g":"xu","s":3.55},
{"g":"xu","s":3.48},{"g":"xu","s":3.48},{"g":"xu","s":3.48},{"g":"xu","s":3.39},{"g":"xu","s":3.39},{"g":"xu","s":3.29},{"g":"xu","s":3.29},{"g":"xu","s":3.19},
{"g":"xu","s":3.06},{"g":"xu","s":3.06},{"g":"xu","s":3.06},{"g":"xu","s":2.89},{"g":"xu","s":2.73},{"g":"xu","s":2.73},{"g":"xu","s":2.44},{"g":"xu","s":2.05},{"g":"xu","s":1.66},
{"g":"xv","s":4},{"g":"xv","s":4},{"g":"xv","s":4},{"g":"xv","s":4},{"g":"xv","s":4},{"g":"xv","s":4},{"g":"xv","s":4},{"g":"xv","s":4},
{"g":"xv","s":3.71},{"g":"xv","s":3.55},{"g":"xv","s":3.39},{"g":"xv","s":3.19},{"g":"xv","s":3.09},{"g":"xv","s":3.09},
{"g":"xv","s":3.05},{"g":"xv","s":3.05},{"g":"xv","s":3.05},{"g":"xv","s":3.05},{"g":"xv","s":3.05},{"g":"xv","s":2.96},{"g":"xv","s":2.96},
{"g":"xv","s":2.89},{"g":"xv","s":2.89},{"g":"xv","s":2.89},{"g":"xv","s":2.8},{"g":"xv","s":2.8},{"g":"xv","s":2.7},{"g":"xv","s":2.7},{"g":"xv","s":2.7},
{"g":"xv","s":2.65},{"g":"xv","s":2.65},{"g":"xv","s":2.65},{"g":"xv","s":2.65},{"g":"xv","s":2.65},
{"g":"xv","s":2.58},{"g":"xv","s":2.58},{"g":"xv","s":2.58},{"g":"xv","s":2.58},{"g":"xv","s":2.58},
{"g":"xv","s":2.5},{"g":"xv","s":2.5},{"g":"xv","s":2.5},{"g":"xv","s":2.41},{"g":"xv","s":2.41},{"g":"xv","s":2.31},{"g":"xv","s":2.31},
{"g":"xv","s":2.18},{"g":"xv","s":2.18},{"g":"xv","s":2.18},{"g":"xv","s":1.98},{"g":"xv","s":1.85},{"g":"xv","s":1.72},{"g":"xv","s":1.72},
{"g":"xv","s":1.62},{"g":"xv","s":1.62},{"g":"xv","s":1.46},{"g":"xv","s":1.46},{"g":"xv","s":1.46},{"g":"xv","s":1.2},{"g":"xv","s":1.07},{"g":"xv","s":0.91},{"g":"xv","s":0.29},
{"g":"xv","s":0.12},{"g":"xv","s":0.12},{"g":"xv","s":0.12},{"g":"xv","s":0.12},{"g":"xv","s":0.12},{"g":"xv","s":0.12},
{"g":"nl","s":4},{"g":"nl","s":4},{"g":"nl","s":4},{"g":"nl","s":4},{"g":"nl","s":4},{"g":"nl","s":4},{"g":"nl","s":4},{"g":"nl","s":4},{"g":"nl","s":4},{"g":"nl","s":4},
{"g":"nl","s":4},{"g":"nl","s":4},{"g":"nl","s":4},{"g":"nl","s":4},{"g":"nl","s":4},{"g":"nl","s":4},{"g":"nl","s":4},{"g":"nl","s":4},{"g":"nl","s":4},{"g":"nl","s":4},
{"g":"nl","s":4},{"g":"nl","s":4},{"g":"nl","s":4},{"g":"nl","s":4},
{"g":"nl","s":3.71},{"g":"nl","s":3.71},{"g":"nl","s":3.61},{"g":"nl","s":3.52},{"g":"nl","s":3.52},
{"g":"nl","s":3.43},{"g":"nl","s":3.43},{"g":"nl","s":3.43},{"g":"nl","s":3.43},{"g":"nl","s":3.43},{"g":"nl","s":3.43},
{"g":"nl","s":3.19},{"g":"nl","s":3.09},{"g":"nl","s":2.99},{"g":"nl","s":2.99},{"g":"nl","s":2.92},{"g":"nl","s":2.83},{"g":"nl","s":2.73},
{"g":"nl","s":2.65},{"g":"nl","s":2.65},{"g":"nl","s":2.5},{"g":"nl","s":2.5},{"g":"nl","s":2.44},{"g":"nl","s":2.44},{"g":"nl","s":2.18},
{"g":"nl","s":1.95},{"g":"nl","s":1.95},{"g":"nl","s":1.66},{"g":"nl","s":1.66},{"g":"nl","s":1.56},{"g":"nl","s":1.43},
{"g":"nm","s":4},{"g":"nm","s":4},{"g":"nm","s":4},{"g":"nm","s":4},{"g":"nm","s":4},{"g":"nm","s":4},{"g":"nm","s":4},{"g":"nm","s":4},{"g":"nm","s":4},{"g":"nm","s":4},
{"g":"nm","s":4},{"g":"nm","s":4},{"g":"nm","s":4},{"g":"nm","s":4},{"g":"nm","s":4},{"g":"nm","s":4},{"g":"nm","s":4},{"g":"nm","s":4},
{"g":"nm","s":3.71},{"g":"nm","s":3.71},{"g":"nm","s":3.65},{"g":"nm","s":3.65},{"g":"nm","s":3.65},
{"g":"nm","s":3.58},{"g":"nm","s":3.58},{"g":"nm","s":3.58},{"g":"nm","s":3.58},{"g":"nm","s":3.52},{"g":"nm","s":3.52},{"g":"nm","s":3.52},
{"g":"nm","s":3.42},{"g":"nm","s":3.42},{"g":"nm","s":3.32},{"g":"nm","s":3.32},{"g":"nm","s":3.22},{"g":"nm","s":3.22},
{"g":"nm","s":2.99},{"g":"nm","s":2.99},{"g":"nm","s":2.99},{"g":"nm","s":2.99},{"g":"nm","s":2.89},{"g":"nm","s":2.89},
{"g":"nm","s":2.7},{"g":"nm","s":2.7},{"g":"nm","s":2.63},{"g":"nm","s":2.63},{"g":"nm","s":2.63},{"g":"nm","s":2.41},{"g":"nm","s":2.41},
{"g":"nm","s":2.24},{"g":"nm","s":2.14},{"g":"nm","s":1.68},{"g":"nm","s":1.43},{"g":"nm","s":1.0},{"g":"nm","s":0.83},
{"g":"nm","s":0.1},{"g":"nm","s":0.1},{"g":"nm","s":0.1},
{"g":"ol","s":4},{"g":"ol","s":4},{"g":"ol","s":4},{"g":"ol","s":4},{"g":"ol","s":4},{"g":"ol","s":4},{"g":"ol","s":4},{"g":"ol","s":4},{"g":"ol","s":4},
{"g":"ol","s":3.57},{"g":"ol","s":3.57},{"g":"ol","s":3.42},{"g":"ol","s":3.32},{"g":"ol","s":3.32},{"g":"ol","s":3.32},{"g":"ol","s":3.22},{"g":"ol","s":3.22},
{"g":"ol","s":3.09},{"g":"ol","s":3.09},{"g":"ol","s":3.09},{"g":"ol","s":2.97},{"g":"ol","s":2.97},{"g":"ol","s":2.97},{"g":"ol","s":2.86},{"g":"ol","s":2.86},
{"g":"ol","s":2.73},{"g":"ol","s":2.73},{"g":"ol","s":2.6},{"g":"ol","s":2.6},{"g":"ol","s":2.5},{"g":"ol","s":2.5},{"g":"ol","s":2.5},{"g":"ol","s":2.5},
{"g":"ol","s":2.34},{"g":"ol","s":2.34},{"g":"ol","s":2.34},{"g":"ol","s":2.24},{"g":"ol","s":2.24},
{"g":"ol","s":2.14},{"g":"ol","s":2.14},{"g":"ol","s":2.14},{"g":"ol","s":2.14},{"g":"ol","s":2.14},
{"g":"ol","s":1.88},{"g":"ol","s":1.78},{"g":"ol","s":1.56},{"g":"ol","s":1.17},{"g":"ol","s":0.29},
{"g":"ol","s":0.1},{"g":"ol","s":0.1},{"g":"ol","s":0.1},{"g":"ol","s":0.1},
{"g":"om","s":4},{"g":"om","s":4},{"g":"om","s":4},{"g":"om","s":4},{"g":"om","s":4},{"g":"om","s":4},{"g":"om","s":4},{"g":"om","s":4},{"g":"om","s":4},{"g":"om","s":4},{"g":"om","s":4},
{"g":"om","s":3.71},{"g":"om","s":3.65},{"g":"om","s":3.65},{"g":"om","s":3.58},{"g":"om","s":3.58},{"g":"om","s":3.58},
{"g":"om","s":3.52},{"g":"om","s":3.52},{"g":"om","s":3.52},{"g":"om","s":3.43},{"g":"om","s":3.43},{"g":"om","s":3.43},{"g":"om","s":3.43},
{"g":"om","s":3.22},{"g":"om","s":3.12},{"g":"om","s":2.99},{"g":"om","s":2.99},{"g":"om","s":2.99},{"g":"om","s":2.99},
{"g":"om","s":2.89},{"g":"om","s":2.76},{"g":"om","s":2.66},{"g":"om","s":2.57},{"g":"om","s":2.47},{"g":"om","s":2.41},{"g":"om","s":2.41},{"g":"om","s":2.41},
{"g":"om","s":2.08},{"g":"om","s":1.98},{"g":"om","s":1.78},{"g":"om","s":1.68},{"g":"om","s":1.6},{"g":"om","s":1.6},{"g":"om","s":1.43},{"g":"om","s":1.17}
]},
"vconcat":[
{"hconcat":[
{"width":264,"height":376,"layer":[
 {"data":{"name":"ra"},"mark":{"type":"rule","color":"#333","strokeWidth":1.2},"encoding":{
  "x":{"field":"x","type":"quantitative","scale":{"domain":[-5,100],"nice":false,"zero":false},"axis":{"values":[0,12.5,25,37.5,50,62.5,75,87.5,100],"labelExpr":"datum.value % 25 == 0 ? datum.label : ''","title":null,"labelPadding":3}},
  "y":{"datum":-0.66,"type":"quantitative","scale":{"domain":[-0.66,13.11],"nice":false,"zero":false},"axis":{"values":[0,0.5,1,1.5,2,2.5,3,3.5,4,4.5,5,5.5,6,6.5,7,7.5,8,8.5,9,9.5,10,10.5,11,11.5,12,12.5,13],"labelExpr":"datum.value % 1 == 0 && datum.value <= 10 ? '' + datum.value : ''","title":"LOD","titlePadding":1,"labelPadding":3}},
  "y2":{"datum":-0.24}}},
 {"data":{"values":[{}]},"mark":{"type":"rule","color":"white","strokeWidth":1},"encoding":{"x":{"datum":-13.94},"y":{"datum":13.846},"y2":{"datum":-1.245}}},
 {"data":{"name":"sa"},"mark":{"type":"area","color":"#f08080","opacity":0.45,"interpolate":"monotone"},"encoding":{"x":{"field":"x","type":"quantitative"},"y":{"field":"lo","type":"quantitative"},"y2":{"field":"hi"}}},
 {"data":{"name":"a"},"transform":[{"fold":["ML","NP","HK","MI"],"as":["m","v"]}],"mark":{"type":"line","strokeWidth":4.5,"opacity":0.7,"strokeJoin":"round","strokeCap":"round"},"encoding":{"x":{"field":"x","type":"quantitative"},"y":{"field":"v","type":"quantitative"},"color":{"field":"m","type":"nominal","scale":{"domain":["ML","NP","HK","MI"],"range":["#E41A1C","#377EB8","#4DAF4A","#984EA3"]},"legend":null}}},
 {"data":{"name":"sa"},"mark":{"type":"line","color":"#3a56e8","strokeWidth":2.5,"interpolate":"monotone"},"encoding":{"x":{"field":"x","type":"quantitative"},"y":{"field":"y","type":"quantitative"}}},
 {"data":{"values":[{}]},"mark":{"type":"rule","color":"#e31a1c","strokeWidth":1.5},"encoding":{"y":{"datum":3}}},
 {"data":{"values":[{}]},"mark":{"type":"rule","color":"black","strokeWidth":1.3,"strokeDash":[2,2]},"encoding":{"y":{"datum":4.47}}},
 {"data":{"values":[{}]},"mark":{"type":"text","font":"Liberation Serif","fontSize":20,"fontWeight":"bold"},"encoding":{"x":{"datum":33.5},"y":{"datum":13.48},"text":{"value":"Psa_score_Field"}}},
 {"data":{"values":[{}]},"mark":{"type":"text","font":"Liberation Serif","fontSize":12,"fontWeight":"bold"},"encoding":{"x":{"datum":80.5},"y":{"datum":13.1},"text":{"value":"‘Hort 16A’"}}},
 {"data":{"values":[{}]},"mark":{"type":"text","font":"Liberation Serif","fontSize":22},"encoding":{"x":{"datum":-0.8},"y":{"datum":12.27},"text":{"value":"a)"}}},
 {"data":{"values":[{}]},"mark":{"type":"text","font":"Liberation Serif","fontSize":14},"encoding":{"x":{"datum":35.5},"y":{"datum":12.71},"text":{"value":"S27_4305319"}}},
 {"data":{"values":[{}]},"mark":{"type":"text","font":"Liberation Serif","fontSize":14},"encoding":{"x":{"datum":76.1},"y":{"datum":12.16},"text":{"value":"LG27"}}}
]},
{"width":205,"height":376,"layer":[
 {"data":{"name":"rb"},"mark":{"type":"rule","color":"#333","strokeWidth":1.2},"encoding":{
  "x":{"field":"x","type":"quantitative","scale":{"domain":[-3.8,56],"nice":false,"zero":false},"axis":{"values":[0,5,10,15,20,25,30,35,40,45,50,55],"labelExpr":"datum.value % 20 == 0 ? datum.label : ''","title":null,"labelPadding":3}},
  "y":{"datum":-0.165,"type":"quantitative","scale":{"domain":[-0.165,6.72],"nice":false,"zero":false},"axis":{"values":[0,0.5,1,1.5,2,2.5,3,3.5,4,4.5,5,5.5,6,6.5],"labelExpr":"datum.value % 1 == 0 ? '' + datum.value : ''","title":"LOD","titlePadding":1,"labelPadding":3}},
  "y2":{"datum":0.045}}},
 {"data":{"name":"sb"},"mark":{"type":"area","color":"#f08080","opacity":0.45,"interpolate":"monotone"},"encoding":{"x":{"field":"x","type":"quantitative"},"y":{"field":"lo","type":"quantitative"},"y2":{"field":"hi"}}},
 {"data":{"name":"b"},"transform":[{"fold":["ML","NP","HK","MI"],"as":["m","v"]}],"mark":{"type":"line","strokeWidth":4.5,"opacity":0.7,"strokeJoin":"round","strokeCap":"round"},"encoding":{"x":{"field":"x","type":"quantitative"},"y":{"field":"v","type":"quantitative"},"color":{"field":"m","type":"nominal","scale":{"domain":["ML","NP","HK","MI"],"range":["#E41A1C","#377EB8","#4DAF4A","#984EA3"]},"legend":null}}},
 {"data":{"name":"sb"},"mark":{"type":"line","color":"#3a56e8","strokeWidth":2.5,"interpolate":"monotone"},"encoding":{"x":{"field":"x","type":"quantitative"},"y":{"field":"y","type":"quantitative"}}},
 {"data":{"values":[{}]},"mark":{"type":"rule","color":"#e31a1c","strokeWidth":1.5},"encoding":{"y":{"datum":3}}},
 {"data":{"values":[{}]},"mark":{"type":"rule","color":"black","strokeWidth":1.3,"strokeDash":[2,2]},"encoding":{"y":{"datum":4.5}}},
 {"data":{"values":[{}]},"mark":{"type":"text","font":"Liberation Serif","fontSize":20,"fontWeight":"bold"},"encoding":{"x":{"datum":24},"y":{"datum":6.9},"text":{"value":"Psa_score_Field"}}},
 {"data":{"values":[{}]},"mark":{"type":"text","font":"Liberation Serif","fontSize":12,"fontWeight":"bold"},"encoding":{"x":{"datum":49.3},"y":{"datum":6.72},"text":{"value":"P1"}}},
 {"data":{"values":[{}]},"mark":{"type":"text","font":"Liberation Serif","fontSize":22},"encoding":{"x":{"datum":1.5},"y":{"datum":6.36},"text":{"value":"b)"}}},
 {"data":{"values":[{}]},"mark":{"type":"text","font":"Liberation Serif","fontSize":14},"encoding":{"x":{"datum":41.4},"y":{"datum":6.28},"text":{"value":"LG22"}}},
 {"data":{"values":[{}]},"mark":{"type":"text","font":"Liberation Serif","fontSize":14},"encoding":{"x":{"datum":14.3},"y":{"datum":4.05},"text":{"value":"S22_4967790"}}}
]},
{"width":221,"height":376,"layer":[
 {"data":{"name":"rc"},"mark":{"type":"rule","color":"#333","strokeWidth":1.2},"encoding":{
  "x":{"field":"x","type":"quantitative","scale":{"domain":[-6,112],"nice":false,"zero":false},"axis":{"values":[0,12.5,25,37.5,50,62.5,75,87.5,100],"labelExpr":"datum.value % 50 == 0 ? datum.label : ''","title":null,"labelPadding":3}},
  "y":{"datum":-0.49,"type":"quantitative","scale":{"domain":[-0.49,9.75],"nice":false,"zero":false},"axis":{"values":[0,0.5,1,1.5,2,2.5,3,3.5,4,4.5,5,5.5,6,6.5,7,7.5,8,8.5,9,9.5],"labelExpr":"datum.value % 1 == 0 ? '' + datum.value : ''","title":"LOD","titlePadding":1,"labelPadding":3}},
  "y2":{"datum":-0.18}}},
 {"data":{"name":"sc"},"mark":{"type":"area","color":"#f08080","opacity":0.45,"interpolate":"monotone"},"encoding":{"x":{"field":"x","type":"quantitative"},"y":{"field":"lo","type":"quantitative"},"y2":{"field":"hi"}}},
 {"data":{"name":"c"},"transform":[{"fold":["ML","NP","HK","MI"],"as":["m","v"]}],"mark":{"type":"line","strokeWidth":4.5,"opacity":0.7,"strokeJoin":"round","strokeCap":"round"},"encoding":{"x":{"field":"x","type":"quantitative"},"y":{"field":"v","type":"quantitative"},"color":{"field":"m","type":"nominal","scale":{"domain":["ML","NP","HK","MI"],"range":["#E41A1C","#377EB8","#4DAF4A","#984EA3"]},"legend":null}}},
 {"data":{"name":"sc"},"mark":{"type":"line","color":"#3a56e8","strokeWidth":2.5,"interpolate":"monotone"},"encoding":{"x":{"field":"x","type":"quantitative"},"y":{"field":"y","type":"quantitative"}}},
 {"data":{"values":[{}]},"mark":{"type":"rule","color":"#e31a1c","strokeWidth":1.5},"encoding":{"y":{"datum":3}}},
 {"data":{"values":[{}]},"mark":{"type":"rule","color":"black","strokeWidth":1.3,"strokeDash":[2,2]},"encoding":{"y":{"datum":4.42}}},
 {"data":{"values":[{}]},"mark":{"type":"text","font":"Liberation Serif","fontSize":20,"fontWeight":"bold"},"encoding":{"x":{"datum":44.4},"y":{"datum":10.03},"text":{"value":"Stem_necrosis"}}},
 {"data":{"values":[{}]},"mark":{"type":"text","font":"Liberation Serif","fontSize":12,"fontWeight":"bold"},"encoding":{"x":{"datum":96.3},"y":{"datum":9.89},"text":{"value":"‘Hort 16A’"}}},
 {"data":{"values":[{}]},"mark":{"type":"text","font":"Liberation Serif","fontSize":22},"encoding":{"x":{"datum":-2.7},"y":{"datum":9.21},"text":{"value":"c)"}}},
 {"data":{"values":[{}]},"mark":{"type":"text","font":"Liberation Serif","fontSize":14},"encoding":{"x":{"datum":59.4},"y":{"datum":9.16},"text":{"value":"S13_10678547"}}},
 {"data":{"values":[{}]},"mark":{"type":"text","font":"Liberation Serif","fontSize":14},"encoding":{"x":{"datum":97.3},"y":{"datum":9.1},"text":{"value":"LG13"}}},
 {"data":{"values":[{}]},"mark":{"type":"text","font":"Liberation Serif","fontSize":14},"encoding":{"x":{"datum":39.6},"y":{"datum":6.08},"text":{"value":"S13_6915810"}}},
 {"data":{"values":[{}]},"mark":{"type":"text","font":"Liberation Serif","fontSize":14},"encoding":{"x":{"datum":39.6},"y":{"datum":5.34},"text":{"value":"S13_6476279"}}}
]}
],"spacing":26,"bounds":"flush"},
{"hconcat":[
{"width":248,"height":365,"layer":[
 {"data":{"name":"rd"},"mark":{"type":"rule","color":"#333","strokeWidth":1.2},"encoding":{
  "x":{"field":"x","type":"quantitative","scale":{"domain":[-4.55,65.9],"nice":false,"zero":false},"axis":{"values":[0,10,20,30,40,50,60],"labelExpr":"datum.value % 20 == 0 ? datum.label : ''","title":"Linkage map  (cM)","titleFont":"Liberation Serif","titleFontSize":13.5,"titleColor":"black","titlePadding":5,"titleX":118,"labelPadding":3}},
  "y":{"datum":-0.29,"type":"quantitative","scale":{"domain":[-0.29,6.03],"nice":false,"zero":false},"axis":{"values":[0,0.5,1,1.5,2,2.5,3,3.5,4,4.5,5,5.5,6],"labelExpr":"datum.value % 1 == 0 ? '' + datum.value : ''","title":"LOD","titlePadding":1,"labelPadding":3}},
  "y2":{"datum":-0.1}}},
 {"data":{"values":[{}]},"mark":{"type":"rule","color":"white","strokeWidth":1},"encoding":{"x":{"datum":-10.8},"y":{"datum":6.603},"y2":{"datum":-2.548}}},
 {"data":{"name":"sd"},"mark":{"type":"area","color":"#f08080","opacity":0.45,"interpolate":"monotone"},"encoding":{"x":{"field":"x","type":"quantitative"},"y":{"field":"lo","type":"quantitative"},"y2":{"field":"hi"}}},
 {"data":{"name":"d"},"transform":[{"fold":["ML","NP","HK","MI"],"as":["m","v"]}],"mark":{"type":"line","strokeWidth":4.5,"opacity":0.7,"strokeJoin":"round","strokeCap":"round"},"encoding":{"x":{"field":"x","type":"quantitative"},"y":{"field":"v","type":"quantitative"},"color":{"field":"m","type":"nominal","scale":{"domain":["ML","NP","HK","MI"],"range":["#E41A1C","#377EB8","#4DAF4A","#984EA3"]},"legend":null}}},
 {"data":{"name":"sd"},"mark":{"type":"line","color":"#3a56e8","strokeWidth":2.5,"interpolate":"monotone"},"encoding":{"x":{"field":"x","type":"quantitative"},"y":{"field":"y","type":"quantitative"}}},
 {"data":{"values":[{}]},"mark":{"type":"rule","color":"#e31a1c","strokeWidth":1.5},"encoding":{"y":{"datum":3}}},
 {"data":{"values":[{}]},"mark":{"type":"rule","color":"black","strokeWidth":1.3,"strokeDash":[2,2]},"encoding":{"y":{"datum":4.61}}},
 {"data":{"values":[{}]},"mark":{"type":"text","font":"Liberation Serif","fontSize":21,"fontWeight":"bold"},"encoding":{"x":{"datum":25.9},"y":{"datum":5.98},"text":{"value":"Ooze"}}},
 {"data":{"values":[{}]},"mark":{"type":"text","font":"Liberation Serif","fontSize":12,"fontWeight":"bold"},"encoding":{"x":{"datum":56},"y":{"datum":5.82},"text":{"value":"P1"}}},
 {"data":{"values":[{}]},"mark":{"type":"text","font":"Liberation Serif","fontSize":22},"encoding":{"x":{"datum":-0.3},"y":{"datum":6.0},"text":{"value":"d)"}}},
 {"data":{"values":[{}]},"mark":{"type":"text","font":"Liberation Serif","fontSize":14},"encoding":{"x":{"datum":57.7},"y":{"datum":5.39},"text":{"value":"LG27.1"}}},
 {"data":{"values":[{}]},"mark":{"type":"text","font":"Liberation Serif","fontSize":14},"encoding":{"x":{"datum":38.4},"y":{"datum":5.15},"text":{"value":"S27_4396089"}}},
 {"data":{"values":[{}]},"mark":{"type":"text","font":"Liberation Serif","fontSize":14},"encoding":{"x":{"datum":19},"y":{"datum":4.7},"text":{"value":"S27_3476163"}}}
]},
{"width":240,"height":365,"layer":[
 {"data":{"name":"re"},"mark":{"type":"rule","color":"#333","strokeWidth":1.2},"encoding":{
  "x":{"field":"x","type":"quantitative","scale":{"domain":[-7.25,108.7],"nice":false,"zero":false},"axis":{"values":[0,12.5,25,37.5,50,62.5,75,87.5,100],"labelExpr":"datum.value % 25 == 0 ? datum.label : ''","title":"Linkage map  (cM)","titleFont":"Liberation Serif","titleFontSize":13.5,"titleColor":"black","titlePadding":3,"labelPadding":3}},
  "y":{"datum":-0.3,"type":"quantitative","scale":{"domain":[-0.3,4.683],"nice":false,"zero":false},"axis":{"values":[0,0.5,1,1.5,2,2.5,3,3.5,4,4.5],"labelExpr":"datum.value % 1 == 0 ? '' + datum.value : ''","title":"LOD","titlePadding":1,"labelPadding":3}},
  "y2":{"datum":-0.15}}},
 {"data":{"name":"se"},"mark":{"type":"area","color":"#f08080","opacity":0.45,"interpolate":"monotone"},"encoding":{"x":{"field":"x","type":"quantitative"},"y":{"field":"lo","type":"quantitative"},"y2":{"field":"hi"}}},
 {"data":{"name":"e"},"transform":[{"fold":["ML","NP","HK","MI"],"as":["m","v"]}],"mark":{"type":"line","strokeWidth":4.5,"opacity":0.7,"strokeJoin":"round","strokeCap":"round"},"encoding":{"x":{"field":"x","type":"quantitative"},"y":{"field":"v","type":"quantitative"},"color":{"field":"m","type":"nominal","scale":{"domain":["ML","NP","HK","MI"],"range":["#E41A1C","#377EB8","#4DAF4A","#984EA3"]},
   "legend":{"orient":"none","legendX":14,"legendY":392,"title":null,"symbolType":"stroke","symbolSize":289,"symbolStrokeWidth":9,"symbolOpacity":0.75,"clipHeight":18,"labelFont":"Liberation Serif","labelFontSize":17.5,"labelColor":"black","labelOffset":17,"rowPadding":6.7,"labelLimit":400,"padding":0,
   "labelExpr":"datum.label == 'ML' ? 'Maximum-Likelihood' : datum.label == 'NP' ? 'Non-parameteric' : datum.label == 'HK' ? 'Haley-Knott  regression' : 'Multiple imputation'"}}}},
 {"data":{"name":"se"},"mark":{"type":"line","color":"#3a56e8","strokeWidth":2.5,"interpolate":"monotone"},"encoding":{"x":{"field":"x","type":"quantitative"},"y":{"field":"y","type":"quantitative"}}},
 {"data":{"values":[{}]},"mark":{"type":"rule","color":"#e31a1c","strokeWidth":1.5},"encoding":{"y":{"datum":3}}},
 {"data":{"values":[{}]},"mark":{"type":"rule","color":"black","strokeWidth":1.3,"strokeDash":[2,2]},"encoding":{"y":{"datum":4.41}}},
 {"data":{"values":[{}]},"mark":{"type":"text","font":"Liberation Serif","fontSize":21,"fontWeight":"bold"},"encoding":{"x":{"datum":45.9},"y":{"datum":4.59},"text":{"value":"Wilt"}}},
 {"data":{"values":[{}]},"mark":{"type":"text","font":"Liberation Serif","fontSize":12,"fontWeight":"bold"},"encoding":{"x":{"datum":95.2},"y":{"datum":4.52},"text":{"value":"P1"}}},
 {"data":{"values":[{}]},"mark":{"type":"text","font":"Liberation Serif","fontSize":22},"encoding":{"x":{"datum":-4.8},"y":{"datum":4.66},"text":{"value":"e)"}}},
 {"data":{"values":[{}]},"mark":{"type":"text","font":"Liberation Serif","fontSize":14},"encoding":{"x":{"datum":48.3},"y":{"datum":4.22},"text":{"value":"HY30_1618648"}}},
 {"data":{"values":[{}]},"mark":{"type":"text","font":"Liberation Serif","fontSize":14},"encoding":{"x":{"datum":98.6},"y":{"datum":4.22},"text":{"value":"LG10"}}}
]},
{"width":200,"height":365,"layer":[
 {"data":{"name":"rf"},"mark":{"type":"rule","color":"#333","strokeWidth":1.2},"encoding":{
  "x":{"field":"x","type":"quantitative","scale":{"domain":[-4.52,108.5],"nice":false,"zero":false},"axis":{"values":[0,12.5,25,37.5,50,62.5,75,87.5,100],"labelExpr":"datum.value % 50 == 0 ? datum.label : ''","title":"Linkage map  (cM)","titleFont":"Liberation Serif","titleFontSize":13.5,"titleColor":"black","titlePadding":10,"titleX":114,"labelPadding":3}},
  "y":{"datum":-0.246,"type":"quantitative","scale":{"domain":[-0.246,4.737],"nice":false,"zero":false},"axis":{"values":[0,0.5,1,1.5,2,2.5,3,3.5,4,4.5],"labelExpr":"datum.value % 1 == 0 ? '' + datum.value : ''","title":"LOD","titlePadding":1,"labelPadding":3}},
  "y2":{"datum":-0.1}}},
 {"data":{"name":"sf"},"mark":{"type":"area","color":"#f08080","opacity":0.45,"interpolate":"monotone"},"encoding":{"x":{"field":"x","type":"quantitative"},"y":{"field":"lo","type":"quantitative"},"y2":{"field":"hi"}}},
 {"data":{"name":"f"},"transform":[{"fold":["ML","NP","HK","MI"],"as":["m","v"]}],"mark":{"type":"line","strokeWidth":4.5,"opacity":0.7,"strokeJoin":"round","strokeCap":"round"},"encoding":{"x":{"field":"x","type":"quantitative"},"y":{"field":"v","type":"quantitative"},"color":{"field":"m","type":"nominal","scale":{"domain":["ML","NP","HK","MI"],"range":["#E41A1C","#377EB8","#4DAF4A","#984EA3"]},"legend":null}}},
 {"data":{"name":"sf"},"mark":{"type":"line","color":"#3a56e8","strokeWidth":2.5,"interpolate":"monotone"},"encoding":{"x":{"field":"x","type":"quantitative"},"y":{"field":"y","type":"quantitative"}}},
 {"data":{"values":[{}]},"mark":{"type":"rule","color":"#e31a1c","strokeWidth":1.5},"encoding":{"y":{"datum":3}}},
 {"data":{"values":[{}]},"mark":{"type":"rule","color":"black","strokeWidth":1.3,"strokeDash":[2,2]},"encoding":{"y":{"datum":4.48}}},
 {"data":{"values":[{}]},"mark":{"type":"text","font":"Liberation Serif","fontSize":21,"fontWeight":"bold"},"encoding":{"x":{"datum":45.8},"y":{"datum":4.67},"text":{"value":"Psa_score_Stab"}}},
 {"data":{"values":[{}]},"mark":{"type":"text","font":"Liberation Serif","fontSize":12,"fontWeight":"bold"},"encoding":{"x":{"datum":93.8},"y":{"datum":4.7},"text":{"value":"P1"}}},
 {"data":{"values":[{}]},"mark":{"type":"text","font":"Liberation Serif","fontSize":22},"encoding":{"x":{"datum":-2.3},"y":{"datum":4.71},"text":{"value":"f)"}}},
 {"data":{"values":[{}]},"mark":{"type":"text","font":"Liberation Serif","fontSize":14},"encoding":{"x":{"datum":29.4},"y":{"datum":4.23},"text":{"value":"S1_8216009"}}},
 {"data":{"values":[{}]},"mark":{"type":"text","font":"Liberation Serif","fontSize":14},"encoding":{"x":{"datum":88.1},"y":{"datum":4.23},"text":{"value":"LG1"}}}
]}
],"spacing":25,"bounds":"flush","resolve":{"legend":{"color":"independent"}}},
{"hconcat":[
{"width":61,"height":220,"data":{"values":[{}]},"layer":[
 {"mark":{"type":"rule","color":"white","strokeWidth":1},"encoding":{"x":{"datum":-0.36,"type":"quantitative","scale":{"domain":[0,1],"nice":false,"zero":false},"axis":null},"y":{"datum":5.2,"type":"quantitative","scale":{"domain":[-0.1,4.195],"nice":false,"zero":false},"axis":null},"y2":{"datum":-0.605}}},
 {"mark":{"type":"rule","color":"#d98f00","strokeWidth":11},"encoding":{"x":{"datum":0.385},"y":{"datum":0.39},"y2":{"datum":3.7}}},
 {"mark":{"type":"rule","color":"#ffb300","strokeWidth":8},"encoding":{"x":{"datum":0.385},"y":{"datum":0.42},"y2":{"datum":3.7}}},
 {"mark":{"type":"point","shape":"triangle-up","size":420,"filled":true,"fill":"#ffb300","stroke":"#d98f00","strokeWidth":1,"opacity":1},"encoding":{"x":{"datum":0.385},"y":{"datum":3.82}}},
 {"mark":{"type":"text","font":"Liberation Serif","fontSize":21},"encoding":{"x":{"datum":0.41},"y":{"datum":4.19},"text":{"value":"Sus"}}},
 {"mark":{"type":"text","font":"Liberation Serif","fontSize":21},"encoding":{"x":{"datum":0.41},"y":{"datum":0.02},"text":{"value":"Tol"}}},
 {"mark":{"type":"text","font":"Liberation Serif","fontSize":20,"angle":270},"encoding":{"x":{"datum":-0.03},"y":{"datum":2.19},"text":{"value":"Psa_score_Field"}}},
 {"mark":{"type":"text","font":"Liberation Serif","fontSize":22},"encoding":{"x":{"datum":-0.08},"y":{"datum":5.01},"text":{"value":"g)"}}}
]},
{"width":218,"height":220,"view":{"stroke":"#222","strokeWidth":1.3},
 "title":{"text":"LG27 G9P1(SNP) Acc30822","subtitle":"‘Hort16A’ =ab X  P1 =aa","font":"Liberation Serif","fontSize":15.5,"fontWeight":"bold","color":"black","subtitleFont":"Liberation Serif","subtitleFontSize":19,"subtitleColor":"black","subtitlePadding":0,"offset":9,"anchor":"middle","frame":"group"},
 "data":{"name":"dots"},
 "transform":[{"filter":{"field":"g","oneOf":["aa","ab"]}},{"window":[{"op":"row_number","as":"r"}],"groupby":["g","s"]},{"joinaggregate":[{"op":"count","as":"n"}],"groupby":["g","s"]},{"calculate":"datum.r - (datum.n + 1) / 2","as":"off"}],
 "mark":{"type":"circle","size":3,"color":"black","opacity":1},
 "encoding":{
  "x":{"field":"g","type":"nominal","scale":{"type":"point","padding":0.6,"domain":["aa","ab"]},"axis":{"title":null,"labelFont":"Liberation Serif","labelFontStyle":"italic","labelFontSize":17,"labelColor":"black","labelAngle":0,"ticks":true,"tickSize":3,"tickColor":"#333","labelPadding":6,"grid":false}},
  "xOffset":{"field":"off","type":"quantitative","scale":{"domain":[-30,30],"range":[-60,60]}},
  "y":{"field":"s","type":"quantitative","scale":{"domain":[-0.1,4.195],"nice":false,"zero":false},"axis":{"values":[0,0.5,1,1.5,2,2.5,3,3.5,4],"format":".1f","title":null,"grid":false,"ticks":true,"tickSize":3,"tickColor":"#333","labelColor":"#333","labelFontSize":7,"labelPadding":2}}}},
{"width":220,"height":220,"view":{"stroke":"#222","strokeWidth":1.3},
 "title":{"text":"SSRLG27_439F4R4","subtitle":"‘Hort16A’ =uv X  P1 =wx","font":"Liberation Serif","fontSize":15.5,"fontWeight":"bold","color":"black","subtitleFont":"Liberation Serif","subtitleFontSize":19,"subtitleColor":"black","subtitlePadding":0,"offset":9,"anchor":"middle","frame":"group","dx":-10},
 "data":{"name":"dots"},
 "transform":[{"filter":{"field":"g","oneOf":["wu","wv","xu","xv"]}},{"window":[{"op":"row_number","as":"r"}],"groupby":["g","s"]},{"joinaggregate":[{"op":"count","as":"n"}],"groupby":["g","s"]},{"calculate":"datum.r - (datum.n + 1) / 2","as":"off"}],
 "mark":{"type":"circle","size":3,"color":"black","opacity":1},
 "encoding":{
  "x":{"field":"g","type":"nominal","scale":{"type":"point","padding":0.7,"domain":["wu","wv","xu","xv"]},"axis":{"title":null,"labelFont":"Liberation Serif","labelFontStyle":"italic","labelFontSize":17,"labelColor":"black","labelAngle":0,"ticks":true,"tickSize":3,"tickColor":"#333","labelPadding":6,"grid":false}},
  "xOffset":{"field":"off","type":"quantitative","scale":{"domain":[-30,30],"range":[-60,60]}},
  "y":{"field":"s","type":"quantitative","scale":{"domain":[-0.1,4.195],"nice":false,"zero":false},"axis":null}}},
{"width":217,"height":220,"view":{"stroke":"#222","strokeWidth":1.3},
 "title":{"text":"SSRLG22_8032664","subtitle":"‘Hort16A’ =lm X  P1 =no","font":"Liberation Serif","fontSize":15.5,"fontWeight":"bold","color":"black","subtitleFont":"Liberation Serif","subtitleFontSize":19,"subtitleColor":"black","subtitlePadding":0,"offset":9,"anchor":"middle","frame":"group","dx":-13},
 "data":{"name":"dots"},
 "transform":[{"filter":{"field":"g","oneOf":["nl","nm","ol","om"]}},{"window":[{"op":"row_number","as":"r"}],"groupby":["g","s"]},{"joinaggregate":[{"op":"count","as":"n"}],"groupby":["g","s"]},{"calculate":"datum.r - (datum.n + 1) / 2","as":"off"}],
 "mark":{"type":"circle","size":3,"color":"black","opacity":1},
 "encoding":{
  "x":{"field":"g","type":"nominal","scale":{"type":"point","padding":0.66,"domain":["nl","nm","ol","om"]},"axis":{"title":null,"labelFont":"Liberation Serif","labelFontStyle":"italic","labelFontSize":17,"labelColor":"black","labelAngle":0,"ticks":true,"tickSize":3,"tickColor":"#333","labelPadding":6,"grid":false}},
  "xOffset":{"field":"off","type":"quantitative","scale":{"domain":[-30,30],"range":[-60,60]}},
  "y":{"field":"s","type":"quantitative","scale":{"domain":[-0.1,4.195],"nice":false,"zero":false},"axis":null}}}
],"spacing":4,"bounds":"flush"}
]
}
